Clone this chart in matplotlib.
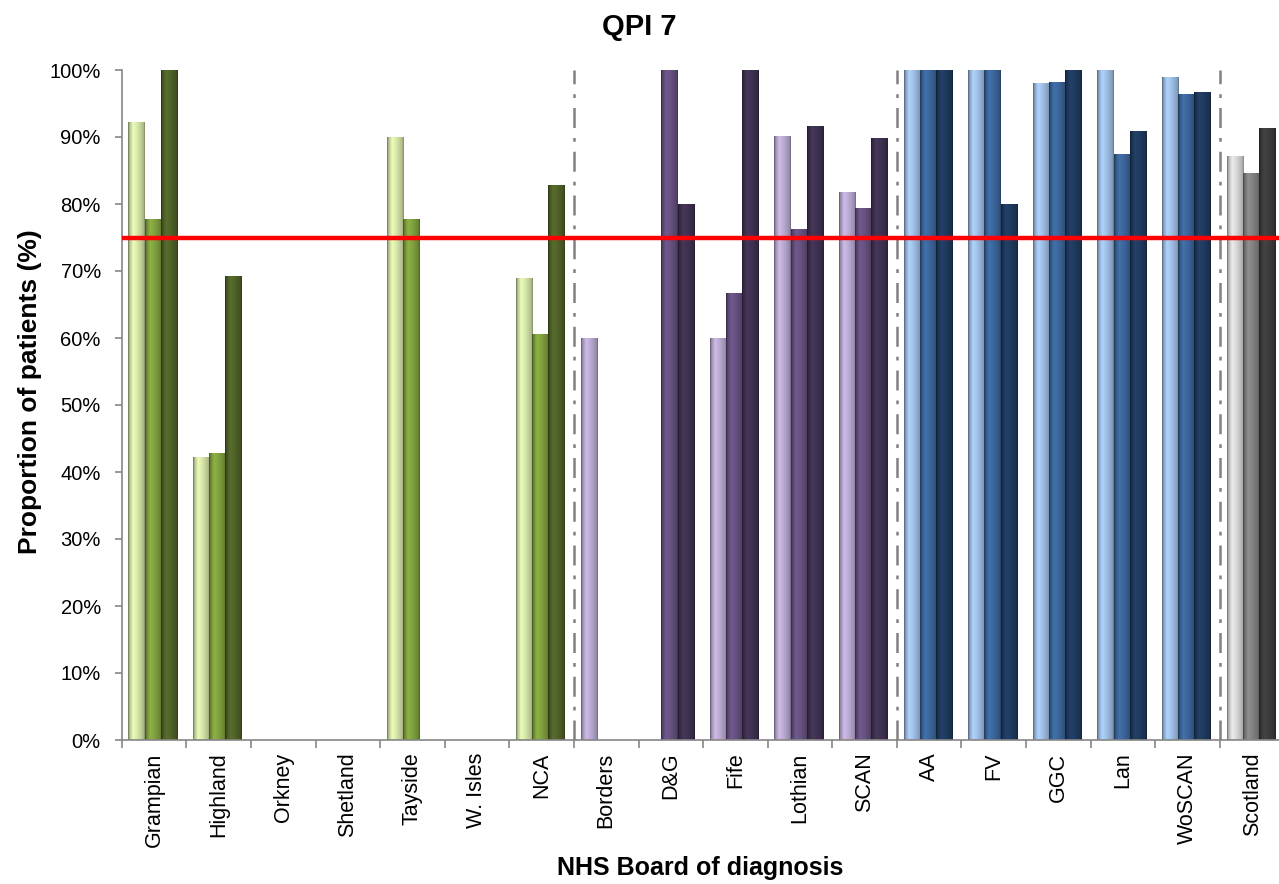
import numpy as np
import matplotlib.pyplot as plt
from matplotlib.colors import to_rgb

plt.rcParams['font.family'] = ['Liberation Sans', 'DejaVu Sans']

boards = ["Grampian", "Highland", "Orkney", "Shetland", "Tayside", "W. Isles", "NCA",
          "Borders", "D&G", "Fife", "Lothian", "SCAN",
          "AA", "FV", "GGC", "Lan", "WoSCAN", "Scotland"]
# network each board belongs to (0 NCA, 1 SCAN, 2 WoSCAN, 3 Scotland)
network = [0, 0, 0, 0, 0, 0, 0, 1, 1, 1, 1, 1, 2, 2, 2, 2, 2, 3]

nan = np.nan
year1 = [92.3, 42.2, nan, nan, 90.0, nan, 68.9, 60.0, nan, 60.0, 90.1, 81.8,
         100, 100, 98.1, 100, 99.0, 87.2]
year2 = [77.8, 42.9, nan, nan, 77.8, nan, 60.6, nan, 100, 66.7, 76.2, 79.4,
         100, 100, 98.2, 87.5, 96.4, 84.6]
year3 = [100, 69.2, nan, nan, nan, nan, 82.9, nan, 80.0, 100, 91.7, 89.8,
         100, 80.0, 100, 90.9, 96.7, 91.4]
target = 75

palette = [
    ["#d3e2a6", "#7f9f3e", "#4f6228"],   # NCA greens
    ["#b8a8d0", "#65507f", "#3f3151"],   # SCAN purples
    ["#9dbde3", "#3b659a", "#1f3a5e"],   # WoSCAN blues
    ["#d4d4d4", "#808080", "#3c3c3c"],   # Scotland greys
]

# shading across a bar, excel style
prof_x = np.linspace(0, 1, 60)
shade = np.interp(prof_x, [0, 0.08, 0.3, 0.6, 0.92, 1.0], [0.5, 0.82, 1.12, 1.0, 0.82, 0.6])


def shaded_bar(ax, patch, color):
    base = np.array(to_rgb(color))
    img = np.clip(base[None, :] * shade[:, None], 0, 1)[None, :, :]
    x0, y0 = patch.get_x(), patch.get_y()
    w, h = patch.get_width(), patch.get_height()
    im = ax.imshow(img, extent=(x0, x0 + w, y0, y0 + h), aspect='auto',
                   interpolation='bilinear', zorder=2)
    im.set_clip_path(patch)


fig = plt.figure(figsize=(12.79, 8.84), dpi=100)
ax = fig.add_axes([121.7 / 1279, 1 - 740 / 884, 18 * 64.6 / 1279, 670 / 884])

x = np.arange(len(boards))
w = 0.25
for k, vals in enumerate([year1, year2, year3]):
    cols = [palette[n][k] for n in network]
    bars = ax.bar(x + (k - 1) * w - 0.02, vals, width=w, color=cols,
                  edgecolor='none', zorder=1)
    for b, c in zip(bars, cols):
        if np.isfinite(b.get_height()):
            shaded_bar(ax, b, c)

ax.axhline(target, color='#ff0000', lw=3.2, zorder=4)

for sep in [6.5, 11.5, 16.5]:
    ax.plot([sep, sep], [0, 100], color='#808080', lw=1.8,
            dashes=(8, 4, 1.5, 4), zorder=3)

ax.set_xlim(-0.5, len(boards) - 0.5)
ax.set_ylim(0, 100)
ax.set_yticks(np.arange(0, 101, 10))
ax.set_yticklabels([f"{v}%" for v in range(0, 101, 10)], fontsize=14.5)
ax.set_xticks(np.arange(len(boards) + 1) - 0.5)
ax.set_xticklabels([])
ax.set_xticks(x, minor=True)
ax.set_xticklabels(boards, minor=True, rotation=90, fontsize=15.5)
ax.tick_params(axis='x', which='major', length=6, color='#868686', width=1.2)
ax.tick_params(axis='x', which='minor', length=0, pad=9)
ax.tick_params(axis='y', length=5, color='#868686', width=1.2, pad=10)

for s in ['top', 'right']:
    ax.spines[s].set_visible(False)
for s in ['left', 'bottom']:
    ax.spines[s].set_color('#868686')
    ax.spines[s].set_linewidth(1.2)

fig.text(0.5, 1 - 27 / 884, "QPI 7", ha='center', va='center',
         fontsize=21, fontweight='bold')
fig.text(30 / 1279, 1 - 392 / 884, "Proportion of patients (%)", rotation=90,
         ha='center', va='center', fontsize=19, fontweight='bold')
fig.text(700 / 1279, 1 - 868 / 884, "NHS Board of diagnosis", ha='center',
         va='center', fontsize=18, fontweight='bold')

fig.savefig("out.png", dpi=100)
